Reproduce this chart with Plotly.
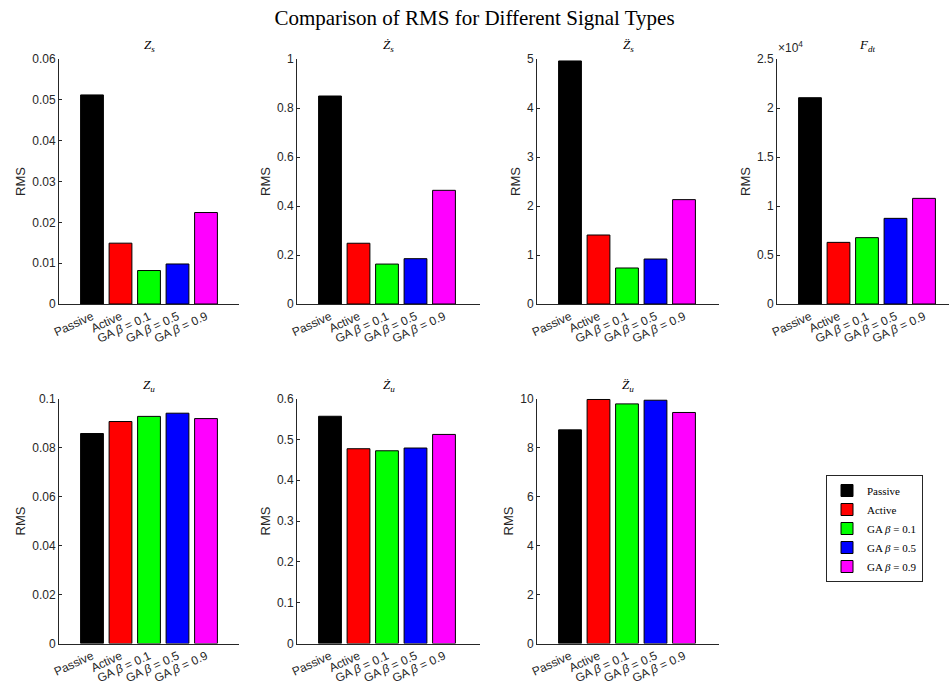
import plotly.graph_objects as go

# ---------------- data ----------------
categories = ["Passive", "Active", "GA β = 0.1", "GA β = 0.5", "GA β = 0.9"]
tick_labels = ["Passive", "Active", "GA <i>β</i> = 0.1", "GA <i>β</i> = 0.5", "GA <i>β</i> = 0.9"]
legend_labels = ["Passive", "Active", "GA <i>β</i> = 0.1", "GA <i>β</i> = 0.5", "GA <i>β</i> = 0.9"]
signal_titles = [
    "<i>Z</i><sub><i>s</i></sub>",
    "<i>Ż</i><sub><i>s</i></sub>",
    "<i>Z\u0308</i><sub><i>s</i></sub>",
    "<i>F</i><sub><i>dt</i></sub>",
    "<i>Z</i><sub><i>u</i></sub>",
    "<i>Ż</i><sub><i>u</i></sub>",
    "<i>Z\u0308</i><sub><i>u</i></sub>",
]
# RMS values per signal: Zs, Zs_dot, Zs_ddot, Fdt, Zu, Zu_dot, Zu_ddot
passive = [0.0512, 0.849, 4.96, 21050, 0.0857, 0.5565, 8.72]
active = [0.0149, 0.248, 1.408, 6290, 0.0906, 0.477, 9.96]
ga_01 = [0.0082, 0.163, 0.735, 6770, 0.0927, 0.472, 9.78]
ga_05 = [0.0098, 0.185, 0.918, 8740, 0.0940, 0.4787, 9.93]
ga_09 = [0.0224, 0.464, 2.13, 10780, 0.0918, 0.512, 9.43]
series = [passive, active, ga_01, ga_05, ga_09]
colors = ["#000000", "#ff0000", "#00ff00", "#0000ff", "#ff00ff"]

y_max = [0.06, 1.0, 5.0, 25000, 0.1, 0.6, 10.0]
y_dtick = [0.01, 0.2, 1.0, 5000, 0.02, 0.1, 2.0]
fdt_ticktext = ["0", "0.5", "1", "1.5", "2", "2.5"]

# ---------------- layout geometry ----------------
W, H = 949, 685
col_px = [(59, 239), (297, 480), (537, 719), (777, 949)]
row_px = [(59, 304), (398.5, 643.5)]
positions = [(0, 0), (0, 1), (0, 2), (0, 3), (1, 0), (1, 1), (1, 2)]

fig = go.Figure()
sans = "Liberation Sans, Arial, sans-serif"
axis_font = dict(family=sans, size=12, color="#262626")
serif = "Liberation Serif, Times New Roman, serif"

annotations = []
for k, (r, c) in enumerate(positions):
    idx = k + 1
    xa = "x" if idx == 1 else f"x{idx}"
    ya = "y" if idx == 1 else f"y{idx}"
    for j, cat in enumerate(categories):
        fig.add_trace(go.Bar(
            x=[j + 1], y=[series[j][k]],
            name=legend_labels[j], legendgroup=cat,
            showlegend=(k == 0),
            marker=dict(color=colors[j], line=dict(color="#000000", width=1)),
            width=0.8, xaxis=xa, yaxis=ya,
        ))
    x0, x1 = col_px[c]
    y0, y1 = row_px[r]
    xdom = [x0 / W, min(x1 / W, 1.0)]
    ydom = [1 - y1 / H, 1 - y0 / H]
    unit = 28.5
    xr0 = 1 - 33 / unit
    xr1 = xr0 + (min(x1, W) - x0) / unit
    xkey = "xaxis" if idx == 1 else f"xaxis{idx}"
    ykey = "yaxis" if idx == 1 else f"yaxis{idx}"
    xaxis = dict(
        domain=xdom, anchor=ya, range=[xr0, xr1], automargin=False,
        tickmode="array", tickvals=[1, 2, 3, 4, 5], ticktext=tick_labels,
        tickangle=-25, ticks="", showline=True, linecolor="#262626", linewidth=1,
        showgrid=False, zeroline=False, tickfont=axis_font, fixedrange=True,
    )
    yaxis = dict(
        domain=ydom, anchor=xa, range=[0, y_max[k]], automargin=False,
        ticks="inside", ticklen=3, tickcolor="#262626",
        showline=True, linecolor="#262626", linewidth=1,
        showgrid=False, zeroline=False, tickfont=axis_font,
        title=dict(text="RMS", font=dict(family=sans, size=13, color="#262626"), standoff=3),
        fixedrange=True,
    )
    if k == 3:
        yaxis.update(tickmode="array",
                     tickvals=[i * y_dtick[k] for i in range(6)],
                     ticktext=fdt_ticktext)
    else:
        yaxis.update(tickmode="linear", tick0=0, dtick=y_dtick[k])
    fig.layout[xkey] = xaxis
    fig.layout[ykey] = yaxis
    annotations.append(dict(
        text=signal_titles[k], xref="paper", yref="paper",
        x=(x0 + x1) / 2 / W if k != 3 else (x0 + 957) / 2 / W,
        y=1 - (y0 - 3) / H, xanchor="center", yanchor="bottom",
        showarrow=False, font=dict(family=serif, size=13, color="#000000"),
    ))

annotations.append(dict(
    text="×10<sup>4</sup>", xref="paper", yref="paper",
    x=776 / W, y=1 - 57 / H, xanchor="left", yanchor="bottom",
    showarrow=False, font=dict(family=sans, size=12, color="#262626"),
))

fig.update_layout(
    width=W, height=H,
    margin=dict(l=0, r=0, t=0, b=0, autoexpand=False),
    paper_bgcolor="white", plot_bgcolor="white",
    barmode="overlay",
    title=dict(text="Comparison of RMS for Different Signal Types",
               x=0.5, xanchor="center", y=1 - 18 / H, yanchor="middle",
               font=dict(family=serif, size=21, color="#000000")),
    annotations=annotations,
    legend=dict(
        x=826 / W, y=1 - 475 / H, xanchor="left", yanchor="top",
        bgcolor="white", bordercolor="#262626", borderwidth=1,
        font=dict(family=serif, size=11, color="#000000"),
        tracegroupgap=0, itemwidth=30,
    ),
    showlegend=True,
)

fig.write_html("out.html")
